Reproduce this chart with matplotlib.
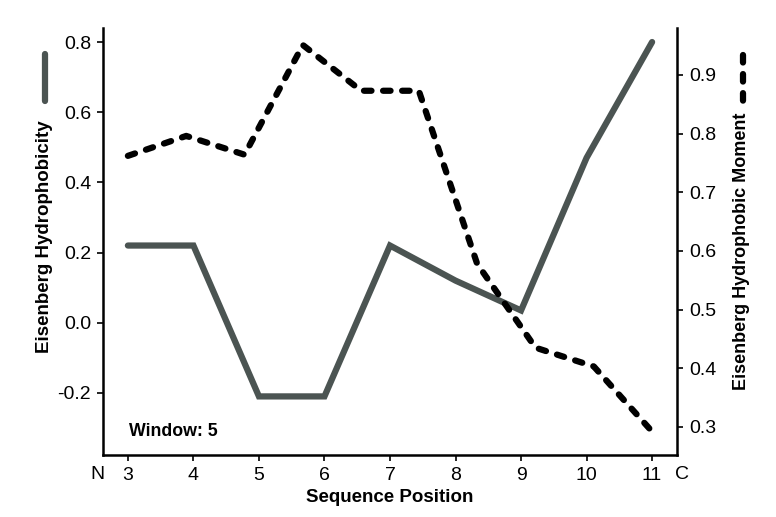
"""Eisenberg hydrophobicity and hydrophobic moment along the sequence (window 5)."""

import matplotlib
matplotlib.use("Agg")
import matplotlib.pyplot as plt
from matplotlib.lines import Line2D
from matplotlib.transforms import blended_transform_factory

plt.rcParams["font.family"] = ["Liberation Sans", "DejaVu Sans"]

# Data
positions = [3, 4, 5, 6, 7, 8, 9, 10, 11]
hydrophobicity = [0.22, 0.22, -0.21, -0.21, 0.22, 0.12, 0.035, 0.47, 0.80]

moment_positions = [3.0, 3.89, 4.78, 5.67, 6.56, 7.44, 8.33, 9.22, 10.11, 11.0]
moment = [0.762, 0.796, 0.764, 0.951, 0.873, 0.873, 0.578, 0.435, 0.403, 0.292]

left_ticks = [-0.2, 0.0, 0.2, 0.4, 0.6, 0.8]
right_ticks = [0.3, 0.4, 0.5, 0.6, 0.7, 0.8, 0.9]

GRAY = "#4b5452"
DASH = (0, (1.2, 1.85))
FS = 13.5
TICK_FS = 14

fig = plt.figure(figsize=(7.76, 5.17), dpi=100)
ax = fig.add_axes([103 / 776, 1 - 455 / 517, (677 - 103) / 776, (455 - 28) / 517])
ax2 = ax.twinx()

ax.plot(positions, hydrophobicity, color=GRAY, linewidth=4.5,
        solid_joinstyle="miter", solid_capstyle="round")
ax2.plot(moment_positions, moment, color="black", linewidth=4.5,
         linestyle=DASH, dash_capstyle="round", dash_joinstyle="round")

ax.set_xlim(2.62, 11.38)
ax.set_ylim(-0.377, 0.84)
ax2.set_ylim(0.252, 0.98)

ax.set_xticks(positions)
ax.set_xticklabels([str(p) for p in positions])
ax.set_yticks(left_ticks)
ax.set_yticklabels([f"{t:.1f}" for t in left_ticks])
ax2.set_yticks(right_ticks)
ax2.set_yticklabels([f"{t:.1f}" for t in right_ticks])

for a in (ax, ax2):
    a.spines["top"].set_visible(False)
    for s in a.spines.values():
        s.set_linewidth(1.8)
    a.tick_params(direction="out", length=4.5, width=1.2, labelsize=TICK_FS, pad=4)
ax.spines["right"].set_visible(False)
ax2.spines["left"].set_visible(False)
ax2.spines["bottom"].set_visible(False)

# terminus labels outside the x range
trans = blended_transform_factory(ax.transData, ax.transAxes)
ax.text(2.54, -0.026, "N", transform=trans, ha="center", va="top", fontsize=TICK_FS)
ax.text(11.46, -0.026, "C", transform=trans, ha="center", va="top", fontsize=TICK_FS)

fig.text(129 / 776, 1 - 432 / 517, "Window: 5", fontsize=12.8, fontweight="bold",
         ha="left", va="center")

fig.text(390 / 776, 1 - 498 / 517, "Sequence Position", fontsize=FS,
         fontweight="bold", ha="center", va="center")
fig.text(44.5 / 776, 1 - 237 / 517, "Eisenberg Hydrophobicity", fontsize=FS,
         fontweight="bold", rotation=90, ha="center", va="center")
fig.text(742 / 776, 1 - 251 / 517, "Eisenberg Hydrophobic Moment", fontsize=13,
         fontweight="bold", rotation=90, ha="center", va="center")

# line samples above the axis labels
fig.add_artist(Line2D([45 / 776, 45 / 776], [1 - 54 / 517, 1 - 101 / 517],
                      color=GRAY, linewidth=4.5, solid_capstyle="round"))
fig.add_artist(Line2D([743 / 776, 743 / 776], [1 - 55 / 517, 1 - 101 / 517],
                      color="black", linewidth=4.5, linestyle=DASH,
                      dash_capstyle="round"))

fig.savefig("out.png", dpi=100)
